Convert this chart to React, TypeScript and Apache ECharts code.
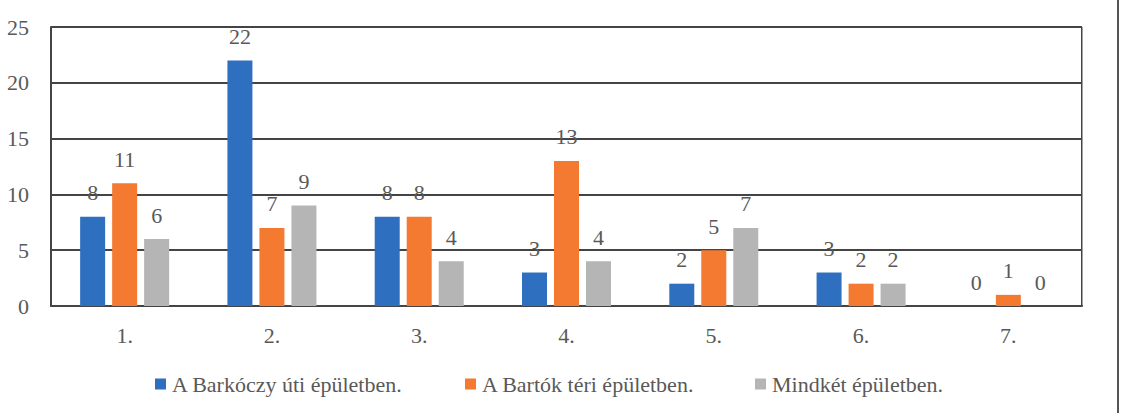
import React, { useEffect, useRef } from "react";
import * as echarts from "echarts";

const categories = ["1.", "2.", "3.", "4.", "5.", "6.", "7."];
const barkoczy = [8, 22, 8, 3, 2, 3, 0];
const bartok = [11, 7, 8, 13, 5, 2, 1];
const mindket = [6, 9, 4, 4, 7, 2, 0];
const seriesNames = ["A Barkóczy úti épületben.", "A Bartók téri épületben.", "Mindkét épületben."];
const colors = ["#2F6FBF", "#F47A32", "#B5B5B5"];
const legendLefts = [155, 465, 755];

const FONT = "Liberation Serif";
const TEXT = "#595959";
const FS = 22;

export default function App() {
  const ref = useRef<HTMLDivElement>(null);
  useEffect(() => {
    const chart = echarts.init(ref.current!, null, { renderer: "svg" });
    const data = [barkoczy, bartok, mindket];
    chart.setOption({
      animation: false,
      textStyle: { fontFamily: FONT, color: TEXT, fontSize: FS },
      grid: { left: 51, right: 42, top: 27, bottom: 107, containLabel: false },
      legend: seriesNames.map((n, i) => ({
        top: 373,
        left: legendLefts[i],
        padding: 0,
        itemWidth: 11,
        itemHeight: 11,
        itemGap: 6,
        icon: "rect",
        textStyle: { fontFamily: FONT, color: TEXT, fontSize: FS, padding: [0, 0, 0, 1] },
        data: [n],
      })),
      xAxis: {
        type: "category",
        data: categories,
        axisLine: { show: true, lineStyle: { color: "#444", width: 2 } },
        axisTick: { show: false },
        axisLabel: { fontFamily: FONT, color: TEXT, fontSize: FS, margin: 18 },
      },
      yAxis: {
        type: "value",
        min: 0,
        max: 25,
        interval: 5,
        axisLine: { show: true, lineStyle: { color: "#444", width: 2 } },
        axisTick: { show: false },
        axisLabel: { fontFamily: FONT, color: TEXT, fontSize: FS, margin: 22 },
        splitLine: { show: true, lineStyle: { color: "#444", width: 2 } },
      },
      graphic: [
        {
          type: "rect",
          shape: { x: 1081, y: 27, width: 1.5, height: 279 },
          style: { fill: "#444" },
        },
        {
          type: "rect",
          shape: { x: 1117, y: 0, width: 2, height: 413 },
          style: { fill: "#555" },
        },
      ],
      series: data.map((d, i) => ({
        name: seriesNames[i],
        type: "bar",
        data: d,
        barWidth: 25,
        barGap: "28%",
        itemStyle: { color: colors[i] },
        label: {
          show: true,
          position: "top",
          distance: 13,
          fontFamily: FONT,
          color: TEXT,
          fontSize: FS,
        },
      })),
    });
    return () => chart.dispose();
  }, []);
  return (
    <div
      ref={ref}
      style={{ position: "fixed", left: 0, top: 0, width: 1124, height: 413, background: "#fff" }}
    />
  );
}
